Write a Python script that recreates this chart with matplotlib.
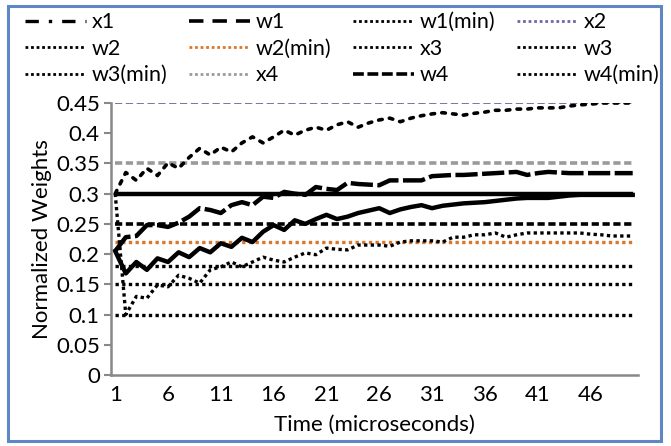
import numpy as np
import matplotlib
matplotlib.use("Agg")
import matplotlib.pyplot as plt
from matplotlib.lines import Line2D
from matplotlib.patches import Rectangle

plt.rcParams['font.family'] = ['Lato', 'DejaVu Sans']

# -----------------------
# data
# -----------------------
time = np.arange(1, 51)

# weights over time
w1 = [0.205, 0.168, 0.187, 0.174, 0.193, 0.187, 0.203, 0.195, 0.210, 0.203,
      0.218, 0.212, 0.227, 0.220, 0.237, 0.248, 0.240, 0.256, 0.250, 0.258,
      0.265, 0.258, 0.262, 0.268, 0.272, 0.276, 0.268, 0.274, 0.278, 0.281,
      0.276, 0.280, 0.282, 0.284, 0.285, 0.286, 0.288, 0.290, 0.292, 0.293,
      0.293, 0.293, 0.295, 0.297, 0.298, 0.298, 0.298, 0.298, 0.298, 0.298]
w2 = [0.300, 0.335, 0.322, 0.342, 0.330, 0.351, 0.342, 0.360, 0.375, 0.364,
      0.377, 0.369, 0.384, 0.394, 0.384, 0.394, 0.405, 0.397, 0.405, 0.410,
      0.405, 0.414, 0.419, 0.410, 0.417, 0.422, 0.425, 0.419, 0.425, 0.429,
      0.432, 0.434, 0.432, 0.430, 0.433, 0.435, 0.438, 0.438, 0.440, 0.440,
      0.442, 0.442, 0.442, 0.445, 0.447, 0.448, 0.450, 0.450, 0.450, 0.450]
w3 = [0.300, 0.100, 0.130, 0.127, 0.149, 0.146, 0.165, 0.160, 0.152, 0.174,
      0.179, 0.187, 0.179, 0.187, 0.195, 0.190, 0.187, 0.195, 0.202, 0.199,
      0.210, 0.208, 0.207, 0.215, 0.215, 0.215, 0.213, 0.220, 0.222, 0.222,
      0.222, 0.220, 0.228, 0.228, 0.232, 0.232, 0.235, 0.228, 0.232, 0.235,
      0.235, 0.235, 0.235, 0.235, 0.235, 0.233, 0.232, 0.230, 0.230, 0.230]
w4 = [0.205, 0.228, 0.230, 0.248, 0.248, 0.245, 0.252, 0.262, 0.276, 0.273,
      0.268, 0.281, 0.286, 0.281, 0.295, 0.293, 0.303, 0.300, 0.298, 0.311,
      0.308, 0.306, 0.318, 0.316, 0.315, 0.314, 0.322, 0.322, 0.322, 0.322,
      0.329, 0.330, 0.331, 0.331, 0.332, 0.333, 0.334, 0.335, 0.336, 0.331,
      0.334, 0.336, 0.335, 0.334, 0.334, 0.334, 0.334, 0.334, 0.334, 0.334]

# constant targets and minimums
x1, x2, x3, x4 = 0.30, 0.45, 0.25, 0.35
w1_min, w2_min, w3_min, w4_min = 0.15, 0.22, 0.10, 0.18

x_ticks = [1, 6, 11, 16, 21, 26, 31, 36, 41, 46]
y_ticks = [0, 0.05, 0.1, 0.15, 0.2, 0.25, 0.3, 0.35, 0.4, 0.45]
y_ticklabels = ["0", "0.05", "0.1", "0.15", "0.2", "0.25", "0.3", "0.35", "0.4", "0.45"]

PURPLE = '#7464a8'
ORANGE = '#d7782c'
GRAY = '#9a9a9a'

# -----------------------
# figure
# -----------------------
fig = plt.figure(figsize=(6.71, 4.46), dpi=100)
ax = fig.add_axes([0.1654, 0.1592, 0.7854, 0.6098])

t0, t1 = time[0], time[-1]
dot = (0, (1, 1))
# horizontal reference lines
ax.hlines(w4_min, t0, t1, color='black', lw=2.4, linestyles=[dot])
ax.hlines(w1_min, t0, t1, color='black', lw=2.4, linestyles=[dot])
ax.hlines(w3_min, t0, t1, color='black', lw=2.4, linestyles=[dot])
ax.hlines(w2_min, t0, t1, color=ORANGE, lw=2.4, linestyles=[dot])
ax.hlines(x3, t0, t1, color='black', lw=2.6, linestyles=[(0, (2, 1))])
ax.hlines(x4, t0, t1, color=GRAY, lw=2.6, linestyles=[(0, (2, 1))])
ax.hlines(x2, t0, t1, color=PURPLE, lw=1.3, linestyles=[(0, (4, 2))])

# weight curves
ax.plot(time, w3, color='black', lw=2.4, linestyle=dot)
ax.plot(time, w2, color='black', lw=2.6, linestyle=(0, (1, 2)), dash_capstyle='round')
ax.plot(time, w1, color='black', lw=3.2)
ax.plot(time, w4, color='black', lw=3.2, linestyle=(0, (5, 1)))
ax.hlines(x1, t0, t1, color='black', lw=3.2)

ax.set_xlim(0.6, 50.5)
ax.set_ylim(0, 0.45)
ax.set_xticks(x_ticks)
ax.set_yticks(y_ticks)
ax.set_yticklabels(y_ticklabels)
ax.tick_params(axis='x', length=0, labelsize=16, pad=7)
ax.tick_params(axis='y', length=5, width=1.5, color='#888888', labelsize=16, pad=3)
for s in ['top', 'right']:
    ax.spines[s].set_visible(False)
for s in ['left', 'bottom']:
    ax.spines[s].set_color('#888888')
    ax.spines[s].set_linewidth(1.8)
ax.set_xlabel("Time (microseconds)", fontsize=16, labelpad=7)
ax.set_ylabel("Normalized Weights", fontsize=16, labelpad=3)

# -----------------------
# legend (row-major order as in the original, so column-major for ncol=4)
# -----------------------
h = {
    'x1': Line2D([], [], color='black', lw=2.4, linestyle=(0, (4, 3, 1, 3))),
    'w1': Line2D([], [], color='black', lw=2.6, linestyle=(0, (4, 2.5))),
    'w1(min)': Line2D([], [], color='black', lw=2, linestyle=dot),
    'x2': Line2D([], [], color=PURPLE, lw=2, linestyle=dot),
    'w2': Line2D([], [], color='black', lw=2, linestyle=dot),
    'w2(min)': Line2D([], [], color=ORANGE, lw=2, linestyle=dot),
    'x3': Line2D([], [], color='black', lw=2, linestyle=dot),
    'w3': Line2D([], [], color='black', lw=2, linestyle=dot),
    'w3(min)': Line2D([], [], color='black', lw=2, linestyle=dot),
    'x4': Line2D([], [], color=GRAY, lw=2, linestyle=dot),
    'w4': Line2D([], [], color='black', lw=2.6, linestyle=(0, (3, 1))),
    'w4(min)': Line2D([], [], color='black', lw=2, linestyle=dot),
}
order = ['x1', 'w2', 'w3(min)', 'w1', 'w2(min)', 'x4',
         'w1(min)', 'x3', 'w4', 'x2', 'w3', 'w4(min)']
fig.legend([h[k] for k in order], order, ncol=4, loc='upper left',
           bbox_to_anchor=(0.025, 0.992), frameon=False, fontsize=15.5,
           handlelength=2.8, handletextpad=0.3, columnspacing=1.0,
           labelspacing=0.3, borderaxespad=0)

# blue outer border
fig.patches.append(Rectangle((0.012, 0.012), 0.973, 0.975, transform=fig.transFigure,
                             fill=False, edgecolor='#5f87c6', lw=2.2))

fig.savefig("out.png", dpi=100)
